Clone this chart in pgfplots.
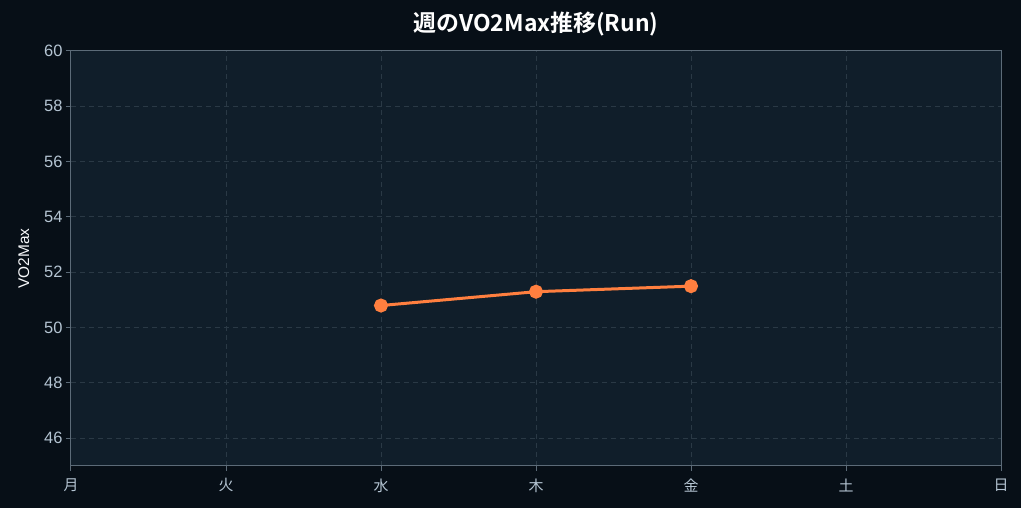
\documentclass[border=0pt]{standalone}
\usepackage{pgfplots}
\pgfplotsset{compat=1.18}
\usepackage{fontspec}
\setmainfont{Liberation Sans}
\newfontfamily\cjk{Noto Sans CJK JP}
\newfontfamily\cjkb{Noto Sans CJK JP Bold}

\definecolor{pagebg}{HTML}{070F17}
\definecolor{plotbg}{HTML}{101E2A}
\definecolor{axisline}{HTML}{5C6B78}
\definecolor{gridc}{HTML}{2A3945}
\definecolor{ticktext}{HTML}{B4C4D2}
\definecolor{runline}{HTML}{FF7F3F}

\begin{document}
\begin{tikzpicture}[x=1bp,y=1bp]
\fill[pagebg] (-71,-42) rectangle (950,466);
\begin{axis}[
  at={(0,0)}, anchor=south west,
  scale only axis,
  width=930bp, height=415bp,
  xmin=0, xmax=6,
  ymin=45, ymax=60,
  xtick={0,1,2,3,4,5,6},
  xticklabels={月,火,水,木,金,土,日},
  xtick pos=bottom, ytick pos=left,
  xticklabel style={font=\cjk\fontsize{15}{17}\selectfont, text=ticktext, yshift=-4bp},
  ytick={46,48,50,52,54,56,58,60},
  yticklabel style={font=\fontsize{16.5}{18}\selectfont, text=ticktext},
  /pgf/number format/assume math mode=true,
  tick align=outside,
  major tick length=5bp,
  tick style={axisline, line width=1bp},
  axis line style={axisline, line width=1bp},
  axis background/.style={fill=plotbg},
  grid=major,
  grid style={gridc, dash pattern=on 5bp off 4bp, line width=1bp},
  ylabel={VO2Max},
  ylabel style={font=\fontsize{15.5}{18}\selectfont, text=white!88!ticktext, at={(ticklabel cs:0.5)}, anchor=south, yshift=8bp},
  title={\cjkb 週のVO2Max推移(Run)},
  title style={font=\fontsize{23}{26}\selectfont, text=white, yshift=5bp},
]
\addplot[runline, line width=3bp, mark=*, mark size=5.5bp, mark options={fill=runline, draw=runline}]
  coordinates {(2,50.8) (3,51.3) (4,51.5)};
\end{axis}
\end{tikzpicture}
\end{document}
